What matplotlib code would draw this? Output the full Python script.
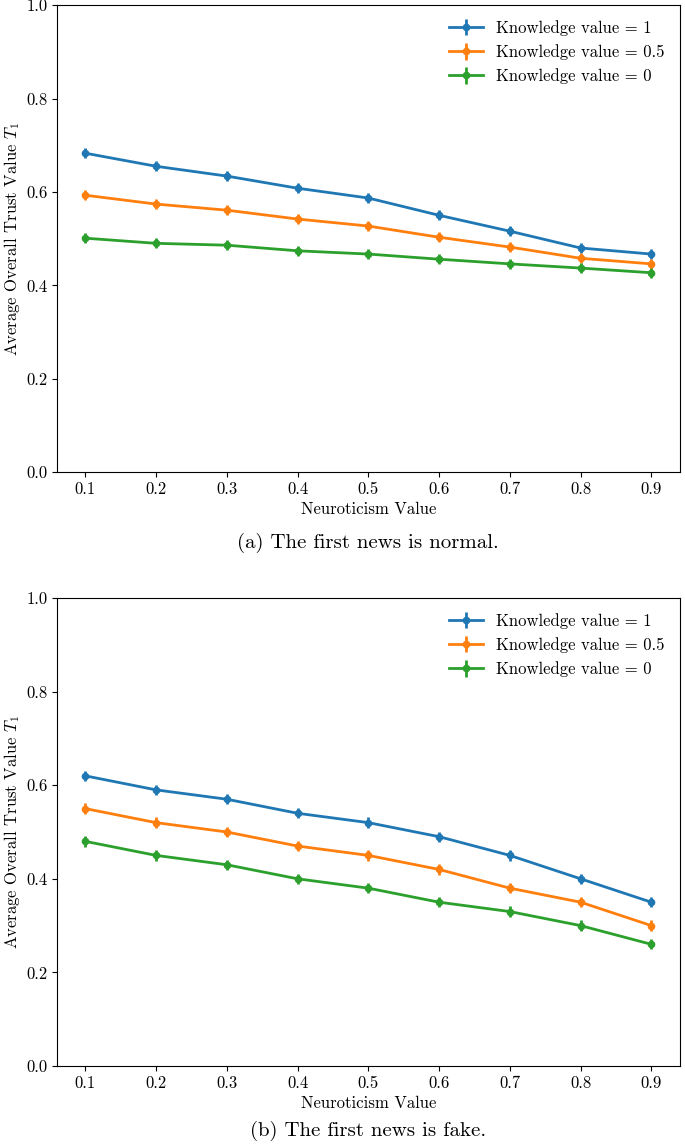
import numpy as np
import matplotlib
matplotlib.use('Agg')
import matplotlib.pyplot as plt

plt.rcParams['font.family'] = 'serif'
plt.rcParams['font.serif'] = ['cmr10']
plt.rcParams['mathtext.fontset'] = 'cm'
plt.rcParams['axes.formatter.use_mathtext'] = True
plt.rcParams['axes.unicode_minus'] = False

# valores
neuroticismo = [0.1, 0.2, 0.3, 0.4, 0.5, 0.6, 0.7, 0.8, 0.9]

normal_k1 = [0.683, 0.655, 0.634, 0.608, 0.587, 0.550, 0.516, 0.480, 0.467]
normal_k05 = [0.593, 0.574, 0.561, 0.542, 0.527, 0.503, 0.482, 0.458, 0.446]
normal_k0 = [0.501, 0.490, 0.486, 0.474, 0.467, 0.456, 0.446, 0.437, 0.427]

fake_k1 = [0.62, 0.59, 0.57, 0.54, 0.52, 0.49, 0.45, 0.40, 0.35]
fake_k05 = [0.55, 0.52, 0.50, 0.47, 0.45, 0.42, 0.38, 0.35, 0.30]
fake_k0 = [0.48, 0.45, 0.43, 0.40, 0.38, 0.35, 0.33, 0.30, 0.26]

error = 0.011

etiquetas = ['Knowledge value = 1', 'Knowledge value = 0.5', 'Knowledge value = 0']
colores = ['#1f77b4', '#ff7f0e', '#2ca02c']
titulos = ['(a) The first news is normal.', '(b) The first news is fake.']

fig = plt.figure(figsize=(6.85, 11.46), dpi=100)
ax1 = fig.add_axes([0.0832, 0.588, 0.909, 0.4075])
ax2 = fig.add_axes([0.0832, 0.0698, 0.909, 0.4084])

for ax, series, titulo, ycap in [(ax1, [normal_k1, normal_k05, normal_k0], titulos[0], -0.152),
                                 (ax2, [fake_k1, fake_k05, fake_k0], titulos[1], -0.138)]:
    for vals, lab, col in zip(series, etiquetas, colores):
        ax.errorbar(neuroticismo, vals, yerr=error, color=col, label=lab,
                    marker='o', markersize=4.5, linewidth=2, elinewidth=2)
    ax.set_ylim(0, 1.0)
    ax.set_xticks(neuroticismo)
    ax.set_xticklabels([str(v) for v in neuroticismo])
    ax.set_yticks([0.0, 0.2, 0.4, 0.6, 0.8, 1.0])
    ax.set_yticklabels(['0.0', '0.2', '0.4', '0.6', '0.8', '1.0'])
    ax.tick_params(labelsize=12)
    ax.set_xlabel('Neuroticism Value', fontsize=12, labelpad=3)
    ax.set_ylabel(r'Average Overall Trust Value $T_1$', fontsize=12, labelpad=3)
    ax.legend(loc='upper right', frameon=False, fontsize=12)
    ax.text(0.5, ycap, titulo, transform=ax.transAxes, ha='center',
            va='center', fontsize=15)

plt.savefig('out.png', dpi=100)
